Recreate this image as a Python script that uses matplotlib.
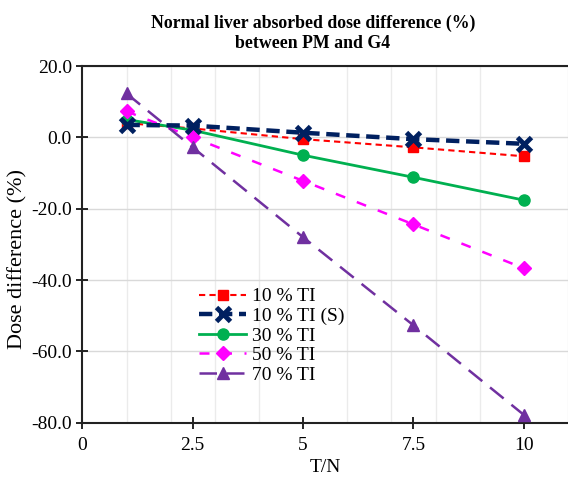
import matplotlib
matplotlib.use("Agg")
import matplotlib.pyplot as plt
from matplotlib.ticker import FormatStrFormatter, MultipleLocator

plt.rcParams['font.family'] = ['Liberation Serif', 'DejaVu Serif']

x = [1, 2.5, 5, 7.5, 10]
ti10 = [4.0, 2.5, -0.5, -2.8, -5.3]
ti10s = [3.5, 3.3, 1.3, -0.5, -1.8]
ti30 = [5.0, 2.0, -5.0, -11.2, -17.6]
ti50 = [7.3, 0.0, -12.2, -24.4, -36.7]
ti70 = [12.3, -2.8, -28.0, -52.7, -77.8]

labels = ['10 % TI', '10 % TI (S)', '30 % TI', '50 % TI', '70 % TI']
xticks = [0, 2.5, 5, 7.5, 10]
xticklabels = ['0', '2.5', '5', '7.5', '10']

fig = plt.figure(figsize=(5.68, 4.82), dpi=100)
ax = fig.add_axes([0.145, 0.123, 0.855, 0.740])

ax.plot(x, ti10, color='#FF0000', ls=(0, (3, 2)), lw=1.5, marker='s', ms=7, label=labels[0], zorder=4)
ax.plot(x, ti10s, color='#002060', ls=(0, (3, 1.5)), lw=3.2, marker='x', ms=10, mew=3.5, label=labels[1], zorder=5)
ax.plot(x, ti30, color='#00B050', ls='-', lw=2, marker='o', ms=8, label=labels[2], zorder=4)
ax.plot(x, ti50, color='#FF00FF', ls=(0, (4, 5)), lw=1.8, marker='D', ms=7, label=labels[3], zorder=4)
ax.plot(x, ti70, color='#7030A0', ls=(0, (7, 4)), lw=1.8, marker='^', ms=9, label=labels[4], zorder=4)

ax.set_xlim(0, 11)
ax.set_ylim(-80, 20)
ax.set_xticks(xticks)
ax.set_xticklabels(xticklabels)
ax.xaxis.set_minor_locator(MultipleLocator(1))
ax.yaxis.set_major_locator(MultipleLocator(20))
ax.yaxis.set_major_formatter(FormatStrFormatter('%.1f'))

ax.grid(True, which='major', axis='y', color='#D9D9D9', lw=1)
ax.grid(True, which='minor', axis='x', color='#EBEBEB', lw=1)
ax.set_axisbelow(True)

ax.spines['right'].set_visible(False)
for s in ['left', 'bottom', 'top']:
    ax.spines[s].set_color('#222222')
    ax.spines[s].set_linewidth(1.5)

ax.tick_params(axis='both', which='major', direction='inout', length=8, width=1.2, labelsize=14, colors='black')
ax.tick_params(axis='x', which='minor', length=0)
ax.tick_params(axis='x', pad=6)

ax.set_xlabel('T/N', fontsize=14, labelpad=4)
ax.set_ylabel('Dose difference (%)', fontsize=16)
ax.yaxis.set_label_coords(-0.112, 0.46)
ax.set_title('Normal liver absorbed dose difference (%)\nbetween PM and G4', fontsize=12.8, fontweight='bold', pad=13, x=0.475)

leg = ax.legend(loc='upper left', bbox_to_anchor=(0.225, 0.40), frameon=False, fontsize=14,
                handlelength=2.4, labelspacing=0.1, handletextpad=0.3, borderaxespad=0)

fig.savefig('out.png', dpi=100)
